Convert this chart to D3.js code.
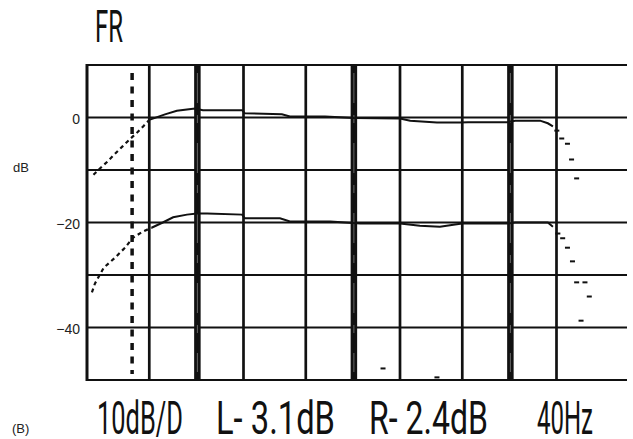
<!DOCTYPE html>
<html>
<head>
<meta charset="utf-8">
<script src="https://cdn.jsdelivr.net/npm/d3@7"></script>
<style>
  html, body { margin: 0; padding: 0; background: #fff; }
  svg { display: block; }
</style>
</head>
<body>
<svg id="chart" width="633" height="439"></svg>
<script>
// Frequency grid (Hz); decade lines are drawn heavier
const freqGrid = [50, 100, 200, 500, 1000, 2000, 5000, 10000, 20000];
const decadeLines = [100, 1000, 10000];
const dbGrid = [0, -10, -20, -30, -40];
const dbLabels = [0, -20, -40];
const markerFreq = 40;

// Upper trace (left channel): dotted low end, solid midband, dotted roll-off
const lFreqLow = [22, 24, 27, 30, 34, 38, 42, 46, 50];
const lDbLow = [-10.9, -9.8, -8.4, -7.0, -5.4, -4.0, -2.8, -1.6, -0.5];
const lFreqMid = [50.5, 63, 75, 98, 110, 196, 204, 352, 396, 664, 1018, 2000, 2323, 3445, 4829, 5440, 9660, 10900, 15700, 17600, 18970];
const lDbMid = [-0.4, 0.6, 1.3, 1.7, 1.4, 1.4, 0.8, 0.6, 0.2, 0.2, -0.1, -0.2, -0.6, -0.95, -0.95, -0.9, -0.9, -0.6, -0.6, -1.1, -1.7];
const lFreqTail = [20100, 21600, 23500, 24960, 26900];
const lDbTail = [-2.5, -4.0, -5.0, -8.0, -11.6];

// Lower trace (right channel, offset 20 dB)
const rFreqLow = [21.5, 22.5, 25.6, 30.2, 35, 39.3, 45.7, 51.7];
const rDbLow = [-33.3, -31.6, -28.6, -26.7, -24.8, -22.9, -21.7, -21.0];
const rFreqMid = [51.7, 61, 71, 87, 101, 117, 196, 204, 342, 396, 716, 1112, 2000, 2680, 3600, 4500, 5000, 9660, 10900, 17600, 18970];
const rDbMid = [-21.0, -20.0, -19.0, -18.5, -18.3, -18.3, -18.5, -19.2, -19.2, -19.8, -19.8, -20.2, -20.2, -20.6, -20.8, -20.4, -20.2, -20.2, -20.0, -20.0, -20.8];
const rFreqTail = [20400, 21900, 23500, 25300, 26900, 28700, 30400, 32400];
const rDbTail = [-22.1, -23.0, -24.8, -27.4, -31.4, -38.7, -31.4, -34.1];

// Isolated plotter marks near the floor
const strayFreq = [1558, 3445];
const strayDb = [-47.8, -49.5];

// Readout texts
const titleText = "FR";
const unitText = "dB";
const panelText = "(B)";
const readouts = ["10dB/D", "L- 3.1dB", "R- 2.4dB", "40Hz"];

const svg = d3.select("#chart");
const ink = "#111";

const plotLeft = 87, plotRight = 627, plotTop = 65, plotBottom = 380;
const x = d3.scaleLog().domain([20, 20000]).range([plotLeft, 556.5]);
const y = d3.scaleLinear().domain([-50, 10]).range([plotBottom, plotTop]);

const zip = (a, b) => a.map((v, i) => [v, b[i]]);
const line = d3.line().x(d => x(d[0])).y(d => y(d[1]));

// Horizontal grid + frame top/bottom
const g = svg.append("g");
g.selectAll("line.h").data([10, ...dbGrid, -50]).join("line")
  .attr("x1", plotLeft - 1).attr("x2", plotRight)
  .attr("y1", d => y(d)).attr("y2", d => y(d))
  .attr("stroke", ink).attr("stroke-width", 2.2);

// Left frame edge
g.append("line").attr("x1", plotLeft).attr("x2", plotLeft)
  .attr("y1", plotTop - 1).attr("y2", plotBottom + 1)
  .attr("stroke", ink).attr("stroke-width", 3);

// Vertical grid
g.selectAll("line.v").data(freqGrid.filter(f => !decadeLines.includes(f))).join("line")
  .attr("x1", d => x(d)).attr("x2", d => x(d))
  .attr("y1", plotTop).attr("y2", plotBottom)
  .attr("stroke", ink).attr("stroke-width", 2.7);

// Decade lines: heavy with a lighter core
g.selectAll("line.dec").data(decadeLines).join("line")
  .attr("x1", d => x(d) + 1).attr("x2", d => x(d) + 1)
  .attr("y1", plotTop).attr("y2", plotBottom)
  .attr("stroke", ink).attr("stroke-width", 6.5);
g.selectAll("line.core").data(decadeLines).join("line")
  .attr("x1", d => x(d) + 1).attr("x2", d => x(d) + 1)
  .attr("y1", plotTop + 8).attr("y2", plotBottom - 8)
  .attr("stroke", "#666").attr("stroke-width", 1)
  .attr("stroke-dasharray", "30,12,8,20");

// 40 Hz marker
g.append("line")
  .attr("x1", x(markerFreq) - 2).attr("x2", x(markerFreq) - 2)
  .attr("y1", plotTop + 8).attr("y2", plotBottom - 6)
  .attr("stroke", ink).attr("stroke-width", 3.5)
  .attr("stroke-dasharray", "7,6.5");

// Traces
const traces = svg.append("g").attr("fill", "none").attr("stroke", ink);
[[lFreqLow, lDbLow], [rFreqLow, rDbLow]].forEach(([f, v]) => {
  traces.append("path").attr("d", line(zip(f, v)))
    .attr("stroke-width", 2.2).attr("stroke-dasharray", "4,3.5");
});
[[lFreqMid, lDbMid], [rFreqMid, rDbMid]].forEach(([f, v]) => {
  traces.append("path").attr("d", line(zip(f, v)))
    .attr("stroke-width", 2).attr("stroke-linejoin", "miter");
});

const dots = svg.append("g").attr("fill", ink);
const tailPts = [...zip(lFreqTail, lDbTail), ...zip(rFreqTail, rDbTail), ...zip(strayFreq, strayDb)];
dots.selectAll("rect").data(tailPts).join("rect")
  .attr("x", d => x(d[0]) - 2.5).attr("y", d => y(d[1]) - 1)
  .attr("width", 5).attr("height", 2);

// dB axis labels
const yAxis = d3.axisLeft(y).tickValues(dbLabels).tickSize(0).tickPadding(0);
const ya = svg.append("g").attr("transform", "translate(80,2)").call(yAxis);
ya.select(".domain").remove();
ya.selectAll("text").attr("font-family", "Liberation Sans, Arial, sans-serif")
  .attr("font-size", 14).attr("fill", "#222");

svg.append("text").attr("x", 13).attr("y", 172).text(unitText)
  .attr("font-family", "Liberation Sans, Arial, sans-serif").attr("font-size", 13).attr("fill", "#222");
svg.append("text").attr("x", 12).attr("y", 433).text(panelText)
  .attr("font-family", "Liberation Sans, Arial, sans-serif").attr("font-size", 13).attr("fill", "#222");

// Plotter-style title and readouts: tall glyphs squeezed to a fixed width
const plotFont = "Roboto, DejaVu Sans, sans-serif";
function condensed(str, left, base, width, size) {
  const grp = svg.append("g");
  const t = grp.append("text").attr("x", 0).attr("y", 0)
    .attr("font-family", plotFont).attr("font-weight", 400)
    .attr("font-size", size).attr("fill", ink)
    .text(str);
  const natural = t.node().getComputedTextLength();
  grp.attr("transform", `translate(${left},${base}) scale(${width / natural},1)`);
}
condensed(titleText, 95, 42, 28, 45);

const readX = [97, 216, 369, 537];
const readW = [86, 119, 119, 56];
readouts.forEach((s, i) => condensed(s, readX[i], 434, readW[i], 46));
</script>
</body>
</html>
